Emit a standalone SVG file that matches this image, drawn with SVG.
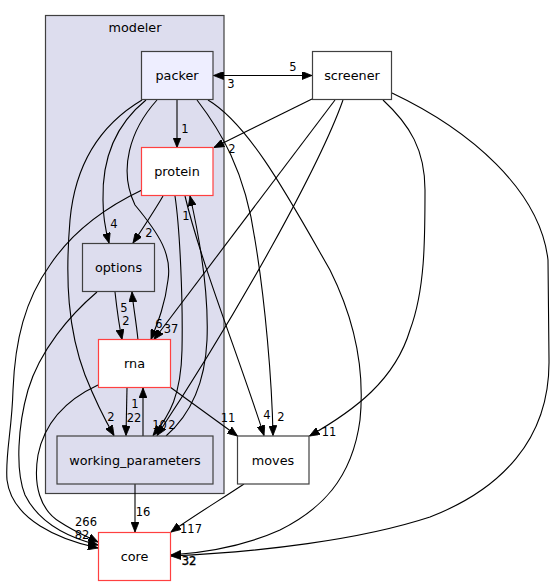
<svg xmlns="http://www.w3.org/2000/svg" width="555" height="585" viewBox="0 0 555 585">
<style>
.n{font-family:"DejaVu Sans",sans-serif;font-size:12.8px;text-anchor:middle;fill:#000}
.l{font-family:"DejaVu Sans",sans-serif;font-size:11.5px;text-anchor:middle;fill:#000}
.box{stroke:#404040;stroke-width:1.2}
.red{fill:#fff;stroke:#ff4040;stroke-width:1.2}
.e{fill:none;stroke:#000;stroke-width:1.1;marker-end:url(#ah)}
</style>
<defs>
<marker id="ah" markerUnits="userSpaceOnUse" markerWidth="11" markerHeight="8" refX="10" refY="4" orient="auto">
<path d="M0,0 L10,4 L0,8 z" fill="#000" stroke="#000" stroke-width="0.8"/>
</marker>
</defs>
<rect width="555" height="585" fill="#fff"/>
<g id="cluster_modeler">
<rect x="45.5" y="15.5" width="178.5" height="478" fill="#ddddee" stroke="#404040" stroke-width="1.2"/>
<text class="n" x="135" y="31.5">modeler</text>
</g>
<g id="connectors">
<path class="e" d="M213,75.5 L312,75.5"/>
<path class="e" d="M312,75.5 L213.5,75.5"/>
<path class="e" d="M177,100 L177,147.5"/>
<path class="e" d="M312,99 L214,147.5"/>
<path class="e" d="M146,100 C115,125 102,160 103,200 C103,220 106,232 109,243"/>
<path class="e" d="M163,196 C155,210 145,225 133,243"/>
<path class="e" d="M157,100 C130,130 118,170 135,205 C160,235 172,255 168,280 C165,305 158,322 151,339.5"/>
<path class="e" d="M335,100 L154,339.5"/>
<path class="e" d="M142,100 C100,125 75,165 70,220 C65,280 68,330 85,375 C95,400 105,420 114,435.5"/>
<path class="e" d="M142,190 C100,210 70,235 50,265 C25,300 15,340 13,390 C12,430 5,455 7,480 C12,520 60,540 98,548"/>
<path class="e" d="M97,292 C70,315 40,350 28,390 C18,425 15,470 25,495 C40,525 70,538 98,545"/>
<path class="e" d="M98,385 C70,398 45,420 38,455 C33,485 40,510 60,522 C75,532 88,537 98,542"/>
<path class="e" d="M115,292 C117,310 119,325 122,339.5"/>
<path class="e" d="M138,340 C136,320 133,305 132,292"/>
<path class="e" d="M127,388 L126,435.5"/>
<path class="e" d="M143,436 L143,388"/>
<path class="e" d="M175,196 C180,230 183,300 182,350 C181,395 170,415 153,435.5"/>
<path class="e" d="M166,436 C190,415 205,385 207,340 C209,290 200,240 190,196"/>
<path class="e" d="M185,196 C200,260 240,360 264,435.5"/>
<path class="e" d="M343,100 C320,165 240,310 157,435.5"/>
<path class="e" d="M197,100 C220,130 245,170 255,240 C265,300 272,380 273,435.5"/>
<path class="e" d="M208,100 C250,125 290,200 330,270 C355,320 365,370 360,420 C352,480 320,510 280,530 C240,548 200,553 171,555"/>
<path class="e" d="M392,93 C470,130 540,190 548,260 L549,360 C550,440 500,490 430,517 C360,540 260,552 171,556"/>
<path class="e" d="M383,100 C410,125 425,150 425,190 C425,240 425,290 410,330 C395,380 355,410 309.5,436"/>
<path class="e" d="M170,387 L237.5,436"/>
<path class="e" d="M135,484 L135,532"/>
<path class="e" d="M244,484 C220,500 195,515 171,532"/>
<text class="l" x="293" y="71">5</text>
<text class="l" x="231" y="88">3</text>
<text class="l" x="185" y="133">1</text>
<text class="l" x="232" y="153">2</text>
<text class="l" x="114" y="228">4</text>
<text class="l" x="149" y="237">2</text>
<text class="l" x="186" y="220">1</text>
<text class="l" x="124" y="312">5</text>
<text class="l" x="126" y="325">2</text>
<text class="l" x="159" y="328">6</text>
<text class="l" x="171" y="333">37</text>
<text class="l" x="111" y="421">2</text>
<text class="l" x="134" y="422">22</text>
<text class="l" x="135" y="407.5">1</text>
<text class="l" x="159.5" y="429">10</text>
<text class="l" x="172" y="429">2</text>
<text class="l" x="228" y="422">11</text>
<text class="l" x="267" y="419">4</text>
<text class="l" x="281" y="421">2</text>
<text class="l" x="329" y="436">11</text>
<text class="l" x="143" y="516">16</text>
<text class="l" x="191" y="533">117</text>
<text class="l" x="86" y="526">266</text>
<text class="l" x="82" y="539">82</text>
<text class="l" x="189" y="565" stroke="#000" stroke-width="0.4">32</text>
</g>
<g id="node_packer">
<rect class="box" x="141.5" y="51.5" width="71.5" height="48" fill="#eeeeff"/>
<text class="n" x="177" y="80">packer</text>
</g>
<g id="node_protein">
<rect class="red" x="141.5" y="147.5" width="71.5" height="48"/>
<text class="n" x="177" y="176">protein</text>
</g>
<g id="node_options">
<rect class="box" x="82.5" y="243.5" width="72" height="48" fill="#ddddee"/>
<text class="n" x="118.5" y="272">options</text>
</g>
<g id="node_rna">
<rect class="red" x="98.5" y="339.5" width="72" height="48"/>
<text class="n" x="134.5" y="368">rna</text>
</g>
<g id="node_working_parameters">
<rect class="box" x="57" y="436" width="156" height="48" fill="#ddddee"/>
<text class="n" x="135" y="464.5">working_parameters</text>
</g>
<g id="node_screener">
<rect class="box" x="312.5" y="51.5" width="79" height="48" fill="#fff"/>
<text class="n" x="352" y="80">screener</text>
</g>
<g id="node_moves">
<rect class="box" x="237.5" y="436" width="71.5" height="48" fill="#fff"/>
<text class="n" x="273" y="464.5">moves</text>
</g>
<g id="node_core">
<rect class="red" x="98.5" y="532.5" width="72" height="48"/>
<text class="n" x="134.5" y="561">core</text>
</g>
</svg>
